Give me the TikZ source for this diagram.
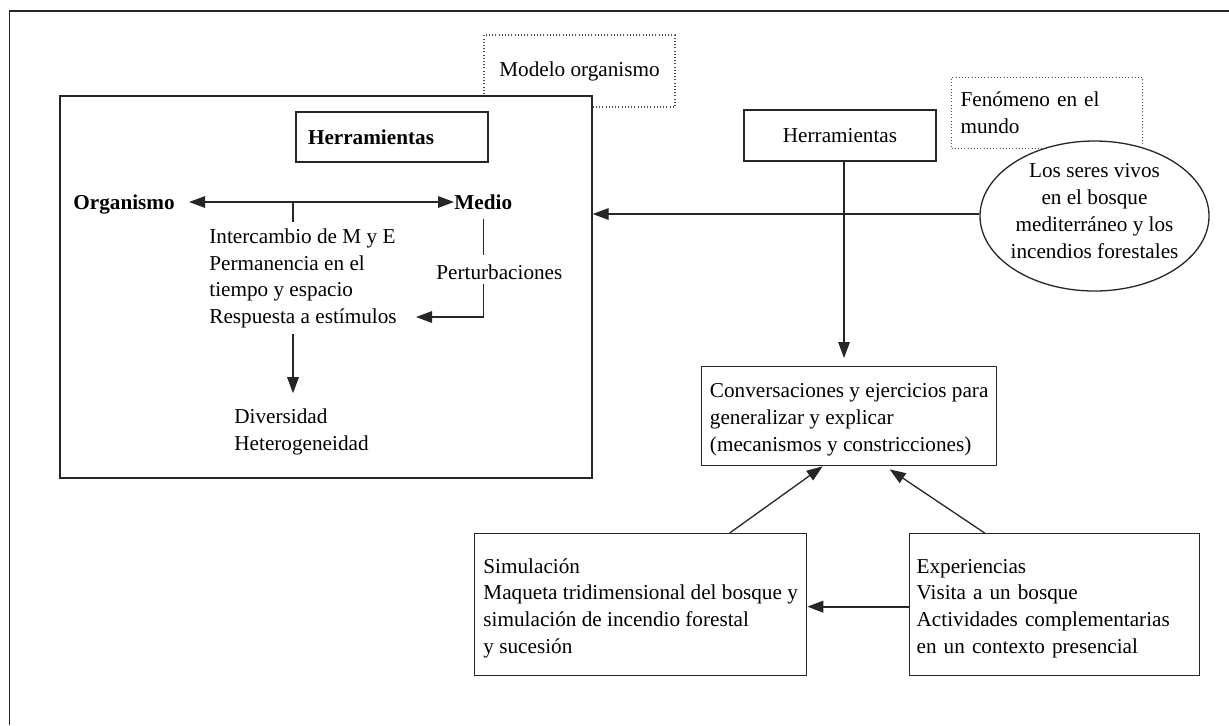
\documentclass[tikz,border=0pt]{standalone}
\usepackage{fontspec}
\setmainfont{Liberation Serif}
\usetikzlibrary{arrows.meta,shapes.geometric}
\newcommand\dfont{\fontsize{10.6}{13.35}\selectfont}
\newcommand\tstrut{\rule{0pt}{12.4pt}}
\tikzset{
  ln/.style={draw=black!85, line width=0.65pt},
  arr/.style={ln, -{Triangle[length=8pt,width=5.8pt]}},
  dbl/.style={ln, {Triangle[length=8pt,width=5.8pt]}-{Triangle[length=8pt,width=5.8pt]}},
  txt/.style={font=\dfont, inner sep=0pt, text=black},
  blk/.style={txt, align=left},
  box/.style={ln, rectangle, fill=white, font=\dfont, text=black},
  dotbox/.style={draw=black!70, line width=0.55pt, dash pattern=on 0.5pt off 1.1pt, rectangle, font=\dfont, text=black},
}
\begin{document}
\begin{tikzpicture}[x=0.5pt,y=-0.5pt]
\useasboundingbox (0,0) rectangle (1229,725);
% outer frame (open at right and bottom)
\draw[ln] (1229,11) -- (9.5,11) -- (9.5,725);

% left part
\node[dotbox, minimum width=95.5pt, minimum height=36pt, inner sep=0pt] (modelo) at (579.5,71) {Modelo organismo};
\node[box, minimum width=266pt, minimum height=191pt, inner sep=0pt] (main) at (326,287) {};
\node[box, text width=84pt, inner xsep=6pt, minimum height=25pt, align=left, font=\dfont\bfseries] (herr1) at (392,137) {Herramientas};

\node[txt, anchor=base west] (org) at (73,209) {\bfseries Organismo};
\node[txt, anchor=base west] (medio) at (454,209) {\bfseries Medio};
\node[blk, anchor=north west] (props) at (209,224.2) {\strut Intercambio de M y E\\Permanencia en el\\tiempo y espacio\\Respuesta a estímulos\strut};
\node[txt, anchor=base west] (pert) at (436,279) {Perturbaciones};
\node[blk, anchor=north west] (divers) at (234,404.2) {\strut Diversidad\\Heterogeneidad\strut};

\coordinate (tk) at (293,202);
\coordinate (resp) at (416,317);
\draw[dbl] ([xshift=7pt,yshift=3.5pt]org.base east) -- ([yshift=3.5pt]medio.base west);
\draw[ln] (tk) -- ([yshift=1pt]tk |- props.north);
\draw[arr] ([yshift=-1pt]tk |- props.south) -- ([yshift=5.5pt]tk |- divers.north);
\draw[ln] ([yshift=-4.5pt]medio.south) -- ([yshift=4.25pt]medio.south |- pert.north);
\draw[arr] ([yshift=-2pt]medio.south |- pert.south) |- (resp);

% right part
\node[box, minimum width=96pt, minimum height=25.5pt, inner sep=0pt] (herr2) at (840,135.5) {Herramientas};
\node[dotbox, anchor=north west, text width=86.5pt, inner xsep=4.5pt, minimum height=35.5pt, align=left] (fen) at (951,77) {Fenómeno en el\\mundo};
\node[ellipse, ln, fill=white, minimum width=114.5pt, minimum height=75pt, inner sep=0pt] (ell) at (1094.5,216) {};
\node[blk, align=center] (elltxt) at (1094.5,212.6) {\strut Los seres vivos\\en el bosque\\mediterráneo y los\\incendios forestales\strut};

\node[box, blk, anchor=north west, minimum width=147.5pt, minimum height=49.5pt, inner sep=0pt] (conv) at (701,366) {\tstrut Conversaciones y ejercicios para\\generalizar y explicar\\(mecanismos y constricciones)\strut};
\node[box, blk, anchor=north west, minimum width=166pt, minimum height=71pt, inner sep=0pt] (sim) at (474,533) {\tstrut Simulación\\Maqueta tridimensional del bosque y\\simulación de incendio forestal\\y sucesión\strut};
\node[box, blk, anchor=north west, text width=138pt, inner xsep=3.5pt, inner ysep=0pt, minimum height=71pt] (exp) at (909,533) {\tstrut Experiencias\\Visita a un bosque\\Actividades complementarias\\en un contexto presencial\strut};

\draw[arr] ([yshift=1pt]ell.west) -- ([yshift=1pt]ell.west -| main.east);
\draw[arr] ([xshift=2pt]herr2.south) -- ([xshift=2pt,yshift=4pt]herr2.south |- conv.north);
\draw[arr] ([xshift=44.5pt]sim.north) -- ([xshift=-13.25pt]conv.south);
\draw[arr] ([xshift=-35pt]exp.north) -- ([xshift=20.25pt,yshift=-1.5pt]conv.south);
\draw[arr, line width=1pt] ([yshift=-1pt]exp.west) -- ([yshift=-1pt]exp.west -| sim.east);
\end{tikzpicture}
\end{document}
